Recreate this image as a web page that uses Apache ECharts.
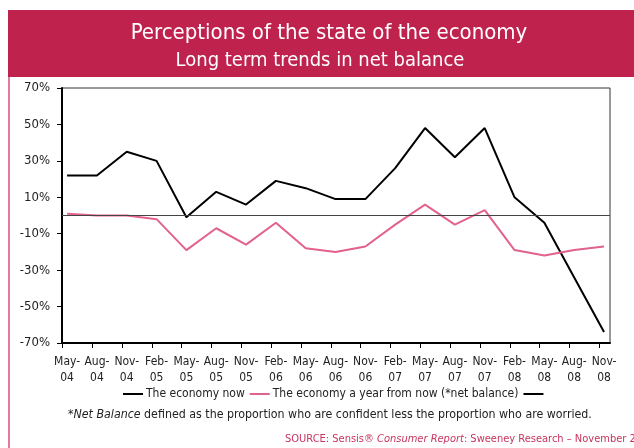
<!DOCTYPE html>
<html>
<head>
<meta charset="utf-8">
<script src="https://cdn.jsdelivr.net/npm/echarts@6/dist/echarts.min.js"></script>
<style>
  html, body { margin: 0; padding: 0; background: #fff; }
  #chart-container { width: 634px; height: 448px; }
</style>
</head>
<body>
<div id="chart-container"></div>
<script>
// survey periods, May-04 .. Nov-08
var periods = ['May-04', 'Aug-04', 'Nov-04', 'Feb-05', 'May-05', 'Aug-05', 'Nov-05', 'Feb-06', 'May-06', 'Aug-06',
    'Nov-06', 'Feb-07', 'May-07', 'Aug-07', 'Nov-07', 'Feb-08', 'May-08', 'Aug-08', 'Nov-08'];
// net balance %
var economyNow = [22, 22, 35, 30, -1, 13, 6, 19, 15, 9, 9, 26, 48, 32, 48, 10, -4, -34, -64];
var economyYearOn = [1, 0, 0, -2, -19, -7, -16, -4, -18, -20, -17, -5, 6, -5, 3, -19, -22, -19, -17];
var yTicks = [-70, -50, -30, -10, 10, 30, 50, 70];

var seriesNames = ['The economy now', 'The economy a year from now (*net balance)', ' '];
var fontFam = '"Liberation Sans Narrow", "DejaVu Sans Condensed", "Liberation Sans", sans-serif';
var pink = '#E2628C';
var banner = '#C0224E';

var dom = document.getElementById('chart-container');
var myChart = echarts.init(dom, null, { renderer: 'canvas' });

var idx = periods.map(function (p, i) { return i; });

var option = {
    animation: false,
    textStyle: { fontFamily: fontFam },
    title: [
        {
            text: 'Perceptions of the state of the economy',
            left: 324, top: 17, textAlign: 'center',
            textStyle: { color: '#fff', fontSize: 22, fontWeight: 'normal', fontFamily: fontFam }
        },
        {
            text: 'Long term trends in net balance',
            left: 315, top: 46, textAlign: 'center',
            textStyle: { color: '#fff', fontSize: 20, fontWeight: 'normal', fontFamily: fontFam }
        }
    ],
    graphic: [
        { type: 'rect', z: -1, shape: { x: 8, y: 10, width: 626, height: 67 }, style: { fill: banner } },
        { type: 'line', shape: { x1: 9, y1: 77, x2: 9, y2: 448 }, style: { stroke: '#D9507C', lineWidth: 1.5 } },
        {
            type: 'text', left: 68, top: 409,
            style: {
                text: '{i|*Net Balance} defined as the proportion who are confident less the proportion who are worried.',
                fill: '#222', font: '12.3px ' + fontFam,
                rich: { i: { fontStyle: 'italic', fontSize: 12.3, fontFamily: fontFam, fill: '#222' } }
            }
        },
        {
            type: 'text', left: 285, top: 434,
            style: {
                text: 'SOURCE: Sensis\u00ae {i|Consumer Report}: Sweeney Research \u2013 November 2008',
                fill: '#C8345E', font: '11px ' + fontFam,
                rich: { i: { fontStyle: 'italic', fontSize: 11, fontFamily: fontFam, fill: '#C8345E' } }
            }
        }
    ],
    legend: {
        data: seriesNames,
        top: 383,
        left: 118,
        icon: 'rect',
        itemWidth: 20,
        itemHeight: 2,
        itemGap: 5,
        textStyle: { fontSize: 12, color: '#222', fontFamily: fontFam, padding: [0, 0, 0, -2] }
    },
    grid: {
        left: 62, right: 24, top: 88, bottom: 105,
        show: true, borderColor: '#333', borderWidth: 1
    },
    xAxis: {
        type: 'value',
        min: -0.17,
        max: 18.2,
        splitLine: { show: false },
        axisLine: { onZero: false, lineStyle: { color: '#000', width: 2 } },
        axisTick: { customValues: idx.map(function (i) { return i - 0.16; }), length: 5, lineStyle: { color: '#000' } },
        axisLabel: {
            customValues: idx,
            color: '#222', fontSize: 12, lineHeight: 16, margin: 11, fontFamily: fontFam,
            formatter: function (v) {
                var p = periods[Math.round(v)].split('-');
                return p[0] + '-\n' + p[1];
            }
        }
    },
    yAxis: {
        type: 'value',
        min: -70,
        max: 70,
        splitLine: { show: false },
        axisLine: { show: true, onZero: false, lineStyle: { color: '#000', width: 2 } },
        axisTick: { show: true, customValues: yTicks, length: 5, lineStyle: { color: '#000' } },
        axisLabel: {
            customValues: yTicks,
            color: '#222', fontSize: 13, margin: 12, fontFamily: fontFam,
            formatter: function (v) { return v + '%'; }
        }
    },
    series: [
        {
            name: seriesNames[0],
            type: 'line',
            symbol: 'none',
            lineStyle: { color: '#000', width: 2 },
            itemStyle: { color: '#000' },
            data: economyNow.map(function (v, i) { return [i, v]; }),
            markLine: {
                silent: true,
                symbol: 'none',
                label: { show: false },
                lineStyle: { color: '#444', width: 1, type: 'solid' },
                data: [{ yAxis: 0 }]
            }
        },
        {
            name: seriesNames[1],
            type: 'line',
            symbol: 'none',
            lineStyle: { color: pink, width: 2 },
            itemStyle: { color: pink },
            data: economyYearOn.map(function (v, i) { return [i, v]; })
        },
        {
            name: seriesNames[2],
            type: 'line',
            symbol: 'none',
            itemStyle: { color: '#000' },
            lineStyle: { color: '#000', width: 2 },
            data: []
        }
    ]
};

myChart.setOption(option);
window.addEventListener('resize', myChart.resize);
</script>
</body>
</html>
